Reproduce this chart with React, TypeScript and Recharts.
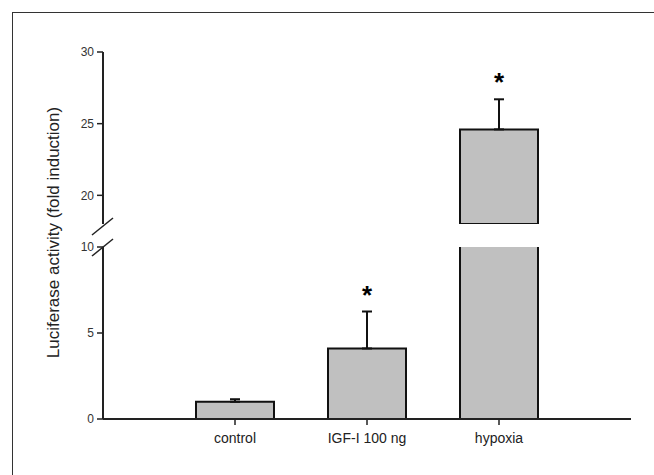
import { ComposedChart, Bar, ErrorBar, XAxis, YAxis, Line } from 'recharts'

const categories = ['control', 'IGF-I 100 ng', 'hypoxia']
const means = [1.0, 4.1, 24.6]
const errors = [0.15, 2.15, 2.1]
const significant = [false, true, true]
const lowerTicks = [0, 5, 10]
const upperTicks = [20, 25, 30]
const lowerDomain = [0, 10]
const upperDomain = [18, 30]

const data = categories.map((name, i) => {
  const star = significant[i] ? means[i] + errors[i] : null
  return {
    name,
    meanLow: means[i],
    meanHigh: means[i] > upperDomain[0] ? means[i] : null,
    err: [0, errors[i]],
    starLow: star !== null && star <= lowerDomain[1] ? star : null,
    starHigh: star !== null && star > lowerDomain[1] ? star : null,
  }
})

const W = 654
const PLOT_LEFT = 103
const PLOT_RIGHT = 631
const UPPER_TOP = 52
const UPPER_BOTTOM = 224
const LOWER_TOP = 247
const LOWER_BOTTOM = 419
const FONT = 'Liberation Sans, Arial, sans-serif'
const BAR_FILL = '#c0c0c0'

const tickStyle = { fontSize: 12, fill: '#333', fontFamily: FONT }

const renderStar = (props: any) => {
  const { x, y, value } = props
  if (value == null) return null
  return (
    <text x={x} y={y - 8} textAnchor="middle" fontSize={26} fontWeight="bold" fontFamily={FONT} fill="#000">
      *
    </text>
  )
}

function Segment({ top, bottom, domain, ticks, barKey, starKey, showX }: any) {
  const xHeight = 34
  const height = showX ? 475 : bottom + 6
  const marginBottom = showX ? 475 - bottom - xHeight : 6
  return (
    <div style={{ position: 'absolute', left: 0, top: 0 }}>
      <ComposedChart
        width={W}
        height={height}
        data={data}
        margin={{ top, right: W - PLOT_RIGHT, bottom: marginBottom, left: 0 }}
      >
        <XAxis
          dataKey="name"
          hide={!showX}
          height={xHeight}
          padding={{ left: 66, right: 66 }}
          axisLine={{ stroke: '#222', strokeWidth: 2 }}
          tickLine={{ stroke: '#222', strokeWidth: 1.5 }}
          tickSize={6}
          tickMargin={8}
          tick={{ fontSize: 14, fill: '#222', fontFamily: FONT }}
          interval={0}
        />
        <YAxis
          type="number"
          domain={domain}
          ticks={ticks}
          allowDataOverflow
          width={PLOT_LEFT}
          axisLine={{ stroke: '#222', strokeWidth: 2 }}
          tickLine={{ stroke: '#222', strokeWidth: 1.5 }}
          tickSize={6}
          tickMargin={3}
          tick={tickStyle}
        />
        <Bar dataKey={barKey} fill={BAR_FILL} stroke="#111" strokeWidth={2} barSize={78} isAnimationActive={false}>
          <ErrorBar dataKey="err" direction="y" width={5} stroke="#111" strokeWidth={2} />
        </Bar>
        <Line
          dataKey={starKey}
          stroke="none"
          dot={false}
          activeDot={false}
          label={renderStar}
          isAnimationActive={false}
        />
      </ComposedChart>
    </div>
  )
}

export default function App() {
  const breakMark = (y: number) => (
    <line x1={PLOT_LEFT - 11} y1={y + 9} x2={PLOT_LEFT + 10} y2={y - 8} stroke="#222" strokeWidth={1.5} />
  )
  return (
    <div style={{ position: 'absolute', left: 0, top: 0, width: W, height: 475, overflow: 'hidden', background: '#fff' }}>
      <div
        style={{
          position: 'absolute',
          left: 12,
          top: 12,
          width: 700,
          height: 500,
          border: '1.5px solid #333',
        }}
      />
      <Segment top={UPPER_TOP} bottom={UPPER_BOTTOM} domain={upperDomain} ticks={upperTicks} barKey="meanHigh" starKey="starHigh" showX={false} />
      <Segment top={LOWER_TOP} bottom={LOWER_BOTTOM} domain={lowerDomain} ticks={lowerTicks} barKey="meanLow" starKey="starLow" showX />
      <svg width={W} height={475} style={{ position: 'absolute', left: 0, top: 0, pointerEvents: 'none' }}>
        {breakMark(UPPER_BOTTOM + 2)}
        {breakMark(LOWER_TOP)}
        <text
          transform={`translate(59, ${(UPPER_TOP + LOWER_BOTTOM) / 2 - 3}) rotate(-90)`}
          textAnchor="middle"
          fontSize={17}
          fontFamily={FONT}
          fill="#222"
        >
          Luciferase activity (fold induction)
        </text>
      </svg>
    </div>
  )
}
